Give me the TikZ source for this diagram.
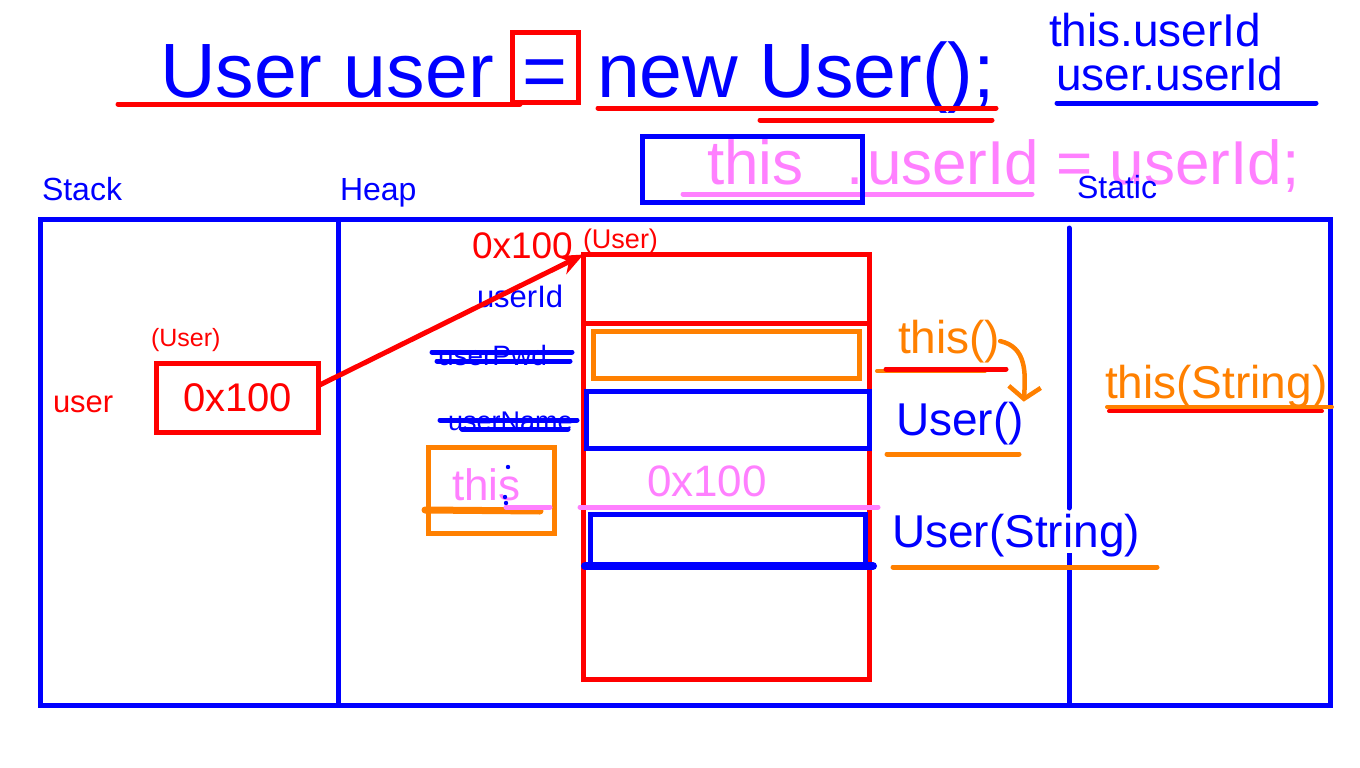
\documentclass[tikz,border=0pt]{standalone}
\usepackage{fontspec}
\setmainfont{Liberation Sans}
\usetikzlibrary{arrows.meta,calc}
\definecolor{cblue}{RGB}{0,0,255}
\definecolor{cred}{RGB}{255,0,0}
\definecolor{corange}{RGB}{255,128,0}
\definecolor{cpink}{RGB}{255,128,255}
\newcommand{\fsz}[1]{\fontsize{#1}{#1}\selectfont}
\tikzset{
  txt/.style={anchor=base west, inner sep=0pt, outer sep=0pt},
  pen/.style={line width=5pt, line cap=round},
  boxed/.style={draw, line width=5pt, inner sep=0pt, outer sep=0pt},
}
\begin{document}
\begin{tikzpicture}[x=1pt,y=-1pt]
\fill[white] (0,0) rectangle (1360,768);
\useasboundingbox (0,0) rectangle (1360,768);

% ---- title line ----
\node[txt, text=cblue, font=\fsz{77}] (t1) at (160,97) {User user};
\node[boxed, draw=cred, minimum width=66pt, minimum height=69pt] (eqbox) at (545,67.5) {};
\node[txt, text=cblue, font=\fsz{77}] (eq) at (522,97) {=};
\node[txt, text=cblue, font=\fsz{77}] (t2) at (597,97) {new User();};
\draw[pen, cred] (118,104) -- (520,104);
\draw[pen, cred] (598,108) -- (996,108);
\draw[pen, cred] (760,120) -- (992,120);

\node[txt, text=cblue, font=\fsz{46}] (tu1) at (1049,47) {this.userId};
\node[txt, text=cblue, font=\fsz{46}] (tu2) at (1056,91) {user.userId};
\draw[pen, cblue] (1057,103) -- (1316,103);

% ---- this.userId = userId; ----
\node[txt, text=cpink, font=\fsz{62}] (p1) at (707,184) {this};
\node[txt, text=cpink, font=\fsz{62}] (p2) at (846,184) {.};
\node[txt, text=cpink, font=\fsz{62}] (p3) at (867,184) {userId = userId;};
\draw[pen, cpink] (683,194) -- (1032,194);
\node[boxed, draw=cblue, minimum width=220pt, minimum height=66pt] (thisbox) at (752.5,169) {};

% ---- area labels ----
\node[txt, text=cblue, font=\fsz{32}] (lstack) at (42,200) {Stack};
\node[txt, text=cblue, font=\fsz{32}] (lheap) at (340,200) {Heap};
\node[txt, text=cblue, font=\fsz{32}] (lstatic) at (1077,198) {Static};

% ---- memory frame ----
\draw[cblue, line width=5pt] (40,219) rectangle (1330,705);
\draw[cblue, line width=5pt] (338,219) -- (338,705);
\draw[cblue, line width=5pt, line cap=round] (1069,228) -- (1069,508);
\draw[cblue, line width=5pt] (1069,553) -- (1069,705);

% ---- stack ----
\node[txt, text=cred, font=\fsz{31}] (luser) at (53,412) {user};
\node[txt, text=cred, font=\fsz{25}] (ltype) at (151,346) {(User)};
\node[boxed, draw=cred, minimum width=162pt, minimum height=69pt, text=cred, font=\fsz{40}] (ref) at (237.5,398) {0x100};

% ---- heap ----
\node[txt, text=cred, font=\fsz{37}] (haddr) at (472,258) {0x100};
\node[txt, text=cred, font=\fsz{27}] (htype) at (583,248) {(User)};
\node[txt, text=cblue, font=\fsz{31}] (fid) at (477,307) {userId};
\node[txt, text=cblue, font=\fsz{28}] (fpwd) at (438,365) {userPwd};
\draw[pen, cblue] (432,352) -- (572,352);
\draw[pen, cblue] (437,361) -- (570,361);
\node[txt, text=cblue, font=\fsz{27}] (fname) at (448,430) {userName};
\draw[pen, cblue] (440,420) -- (577,420);
\draw[pen, cblue] (462,429) -- (568,429);

\node[boxed, draw=cred, minimum width=286pt, minimum height=425pt] (obj) at (726.5,467) {};
\draw[cred, line width=5pt] (583,323) -- (870,323);
\node[boxed, draw=corange, minimum width=266pt, minimum height=47pt] (slotA) at (726.5,355) {};
\node[boxed, draw=cblue, minimum width=283pt, minimum height=57pt] (slotB) at (727.5,419.5) {};
\draw[pen, cpink] (580,507) -- (878,507);
\node[txt, text=cpink, font=\fsz{44}] (thisval) at (647,496) {0x100};
\node[boxed, draw=cblue, minimum width=275pt, minimum height=50pt] (slotC) at (727.5,539) {};
\draw[cblue, line width=8pt, line cap=round] (585,566) -- (873,566);

\node[boxed, draw=corange, minimum width=126pt, minimum height=86pt] (thisref) at (491,490) {};
\node[txt, text=cpink, font=\fsz{44}] (thislbl) at (452,500) {this};
\draw[corange, line width=7pt, line cap=round] (425,510) -- (540,511);
\draw[pen, cpink] (506,507) -- (550,507);
\fill[cblue] (508,467) circle (2.2);
\fill[cblue] (505,497) circle (2.2);
\fill[cblue] (506,503) circle (2.2);

\draw[cred, line width=5pt, -{Stealth[length=24pt,width=20pt]}]
  ($(ref.north east)!0.32!(ref.south east)$) -- (obj.north west);

% ---- constructors ----
\node[txt, text=corange, font=\fsz{46}] (cthis) at (898,353) {this()};
\draw[corange, line width=4pt, line cap=round] (877,371) -- (985,371);
\draw[pen, cred] (886,369) -- (1006,369);
\node[txt, text=cblue, font=\fsz{46}] (cuser) at (896,435) {User()};
\draw[pen, corange] (887,454) -- (1019,454);
\draw[corange, line width=4.5pt, line cap=round, -{Straight Barb[length=12pt,width=32pt]}]
  (cthis.east) .. controls +(26,6) and +(2,-30) .. (cuser.north east);
\node[txt, text=cblue, font=\fsz{46}] (cuserS) at (892,547) {User(String)};
\draw[pen, corange] (893,567) -- (1157,567);
\node[txt, text=corange, font=\fsz{46}] (cthisS) at (1105,398) {this(String)};
\draw[corange, line width=4pt, line cap=round] (1107,407) -- (1332,407);
\draw[cred, line width=4pt, line cap=round] (1109,411) -- (1322,411);
\end{tikzpicture}
\end{document}
